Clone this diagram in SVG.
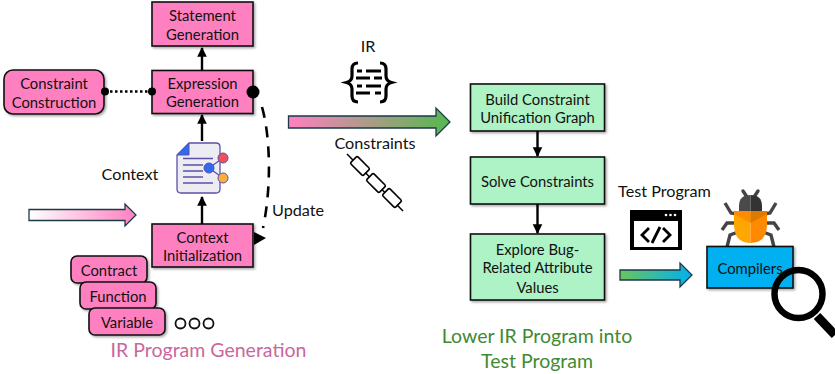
<svg xmlns="http://www.w3.org/2000/svg" width="835" height="374" viewBox="0 0 835 374">
<style>
text{font-family:"Lato","Open Sans","Liberation Sans",sans-serif;font-size:14.800px;fill:#111;text-anchor:middle}
.l{font-size:16.200px}
.t{font-size:19.500px}
.box{stroke:#111;stroke-width:1.6;filter:url(#sh)}
.p{fill:#ff80c0}.g{fill:#aef3c6}
.c{fill:none;stroke:#000;stroke-width:2.4}
.ar{stroke:#1a3a4a;stroke-width:1.3}
</style>
<defs>
<filter id="sh" x="-10%" y="-10%" width="125%" height="125%"><feDropShadow dx="1.5" dy="1.5" stdDeviation="1.2" flood-color="#000" flood-opacity=".35"/></filter>
<marker id="ah" viewBox="0 0 10 10" refX="9" refY="5" markerWidth="4" markerHeight="4.6" orient="auto"><path d="M0 0L10 5L0 10Z"/></marker>
<linearGradient id="g1"><stop offset="0" stop-color="#fff"/><stop offset="1" stop-color="#ff80c0"/></linearGradient>
<linearGradient id="g2"><stop offset="0" stop-color="#ff80c0"/><stop offset="1" stop-color="#55b84f"/></linearGradient>
<linearGradient id="g3"><stop offset="0" stop-color="#6cc45c"/><stop offset="1" stop-color="#00b0f0"/></linearGradient>
</defs>

<g id="statement-generation"><rect class="box p" x="152" y="2" width="101" height="44"/><text x="202.500" y="20.500">Statement</text><text x="202.500" y="39.500">Generation</text></g>
<g id="expression-generation"><rect class="box p" x="152" y="70.500" width="101" height="43"/><text x="202.500" y="88.500">Expression</text><text x="202.500" y="106.500">Generation</text></g>
<g id="constraint-construction"><rect class="box p" x="4" y="70" width="100" height="44" rx="9"/><text x="54" y="88.500">Constraint</text><text x="54" y="107.500">Construction</text></g>
<g id="context-initialization"><rect class="box p" x="152" y="224" width="101" height="43"/><text x="202.500" y="242.500">Context</text><text x="202.500" y="260.500">Initialization</text></g>
<g id="contract"><rect class="box p" x="71" y="256" width="76" height="27" rx="6"/><text x="109" y="276">Contract</text></g>
<g id="function"><rect class="box p" x="80" y="282" width="76" height="27" rx="6"/><text x="118" y="302">Function</text></g>
<g id="variable"><rect class="box p" x="89" y="308" width="76" height="27" rx="6"/><text x="127" y="328">Variable</text></g>
<g id="dots" fill="none" stroke="#111" stroke-width="1.800"><circle cx="180.500" cy="323.500" r="5"/><circle cx="194.500" cy="323.500" r="5"/><circle cx="208.500" cy="323.500" r="5"/></g>

<g id="context-icon">
<path d="M189 143H216Q220 143 220 147V189Q220 193 216 193H181Q177 193 177 189V155Z" fill="#ececf2" stroke="#5a52a8" stroke-width="1.300"/>
<path d="M177 155L189 143V155Z" fill="#2f6bf0" stroke="#5a52a8"/>
<path d="M183 158.500H213M183 165H203M183 171H203M183 177H203M183 183H213" stroke="#5a52a8" stroke-width="1.300" fill="none"/>
<path d="M209 168L223 158M209 168L223 178" stroke="#5a52a8" stroke-width="1.300"/>
<circle cx="209" cy="168" r="5" fill="#2f6bf0" stroke="#5a52a8"/>
<circle cx="223" cy="158" r="5" fill="#f0505a" stroke="#5a52a8"/>
<circle cx="223" cy="178" r="5" fill="#fbb03b" stroke="#5a52a8"/>
</g>
<text class="l" x="130" y="179.500">Context</text>
<text class="l" x="298" y="215.500">Update</text>
<g id="input-arrow"><path class="ar" d="M29 209.500H125V204L136 215L125 226V220.500H29Z" fill="url(#g1)"/></g>
<text class="t" x="208.500" y="356.500" style="fill:#c8689c">IR Program Generation</text>

<text class="l" x="368" y="51.500">IR</text>
<g id="ir-icon" fill="none" stroke="#000" stroke-width="3.200">
<path d="M358 63Q352 63 352 69V76Q352 81 346.500 82.500Q352 84 352 89V96Q352 102 358 102"/>
<path d="M380 63Q386 63 386 69V76Q386 81 391.500 82.500Q386 84 386 89V96Q386 102 380 102"/>
<path stroke-width="3" d="M357 71H362M366 71H381M356 78H370M374 78H382M357 86H362M366 86H381M356 93H370M375 93H381"/>
</g>
<g id="main-arrow"><path class="ar" d="M288.500 116H436V108L450 122L436 136V128H288.500Z" fill="url(#g2)"/></g>
<text class="l" x="375" y="148.500">Constraints</text>
<g id="chain" fill="none" stroke="#000" stroke-width="1.600">
<path d="M347 154L403 211" stroke-width="1.500"/>
<rect x="-9" y="-5" width="18" height="10" rx="1.500" fill="#fff" transform="translate(360 166) rotate(45)"/>
<rect x="-9" y="-5" width="18" height="10" rx="1.500" fill="#fff" transform="translate(376 183) rotate(45)"/>
<rect x="-9" y="-5" width="18" height="10" rx="1.500" fill="#fff" transform="translate(392 198) rotate(45)"/>
</g>

<g id="build-graph"><rect class="box g" x="470.500" y="84" width="134" height="47"/><text x="537.500" y="104.500">Build Constraint</text><text x="537.500" y="122.500">Unification Graph</text></g>
<g id="solve-constraints"><rect class="box g" x="470.500" y="157" width="134" height="47"/><text x="537.500" y="186.500">Solve Constraints</text></g>
<g id="explore-values"><rect class="box g" x="470.500" y="234" width="134" height="66"/><text x="537.500" y="254.500">Explore Bug-</text><text x="537.500" y="272.500">Related Attribute</text><text x="537.500" y="292.500">Values</text></g>
<text class="t" x="537" y="342.500" style="fill:#3f8a33">Lower IR Program into</text>
<text class="t" x="537" y="367.500" style="fill:#3f8a33">Test Program</text>

<text class="l" x="664.500" y="196.500">Test Program</text>
<g id="code-icon">
<rect x="630" y="210" width="52" height="40" fill="#000"/>
<rect x="634" y="221" width="44" height="26" fill="#fff"/>
<g fill="#fff"><circle cx="666" cy="215" r="1.300"/><circle cx="670.500" cy="215" r="1.300"/><circle cx="675" cy="215" r="1.300"/></g>
<path d="M649 228L642 235L649 242M663 228L670 235L663 242M660 227L652 243" fill="none" stroke="#000" stroke-width="2.800"/>
</g>
<g id="output-arrow"><path class="ar" d="M620 270H680V263L692 275L680 287V280H620Z" fill="url(#g3)"/></g>

<g id="bug">
<g fill="none" stroke="#444" stroke-width="3.400">
<path d="M725 203L731 213L737 214M776 203L770 213L764 214"/>
<path d="M722 230L727 223L737 223M779 230L774 223L764 223"/>
<path d="M727 247L730 235L738 232M774 247L771 235L763 232"/>
<path d="M743 191L747 197M758 191L754 197" stroke-linecap="round"/>
</g>
<path d="M739 211V206Q739 195 750.500 195V211Z" fill="#4a4a4a"/>
<path d="M750.500 195Q762 195 762 206V211H750.500Z" fill="#333"/>
<path d="M734 211H750.500V243Q734 243 734 224Z" fill="#ffa600"/>
<path d="M750.500 211H767V224Q767 243 750.500 243Z" fill="#ff8a00"/>
<path d="M734 211H750.500V223L734 214Z" fill="#ff8c00"/>
<path d="M750.500 211H767V214L750.500 223Z" fill="#dd7a00"/>
</g>
<g id="compilers"><rect class="box" x="707" y="246.500" width="86" height="41.500" fill="#00b0f0"/><text x="750" y="273.500">Compilers</text></g>
<g id="magnifier" fill="none" stroke="#000"><circle cx="798.500" cy="294" r="24" stroke-width="6.500"/><path d="M817 316L835 335" stroke-width="9"/></g>

<g id="connectors">
<path class="c" d="M202 70V48" marker-end="url(#ah)"/>
<path class="c" d="M202 141V115" marker-end="url(#ah)"/>
<path class="c" d="M202 224V197" marker-end="url(#ah)"/>
<path d="M105 91.500H152" fill="none" stroke="#000" stroke-width="2.500" stroke-dasharray="2.500 2.500"/>
<circle cx="105" cy="91.500" r="4"/><circle cx="152" cy="91.500" r="4"/>
<circle cx="253" cy="92" r="6.500"/>
<path d="M262 107C270 135 272 185 263 228" fill="none" stroke="#000" stroke-width="2.600" stroke-dasharray="11 9"/>
<path d="M254 232L266 238L254 245Z"/>
<path class="c" d="M537.500 131V156" marker-end="url(#ah)"/>
<path class="c" d="M537.500 204V233" marker-end="url(#ah)"/>
</g>
</svg>
